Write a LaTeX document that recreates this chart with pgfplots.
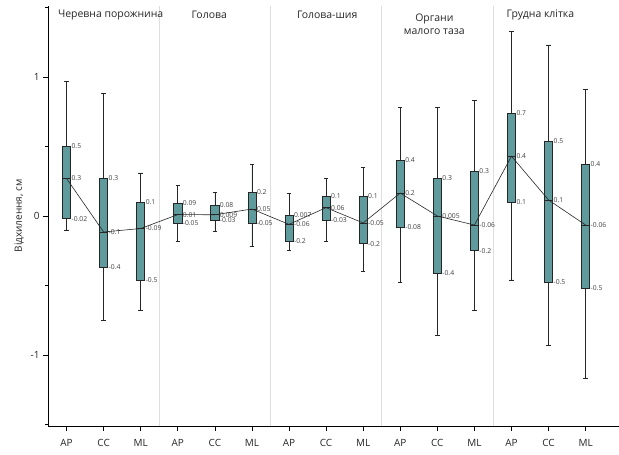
\documentclass[border=0pt]{standalone}
\usepackage{fontspec}
\setmainfont{Open Sans}
\usepackage{pgfplots}
\usepackage{pgfplotstable}
\pgfplotsset{compat=1.18}
\usepgfplotslibrary{statistics}
\usetikzlibrary{calc}
\definecolor{boxc}{HTML}{5F9B9D}

\pgfplotstableread{
x y t
0.11 0.50 0.5
0.11 0.27 0.3
0.11 -0.02 -0.02
1.11 0.27 0.3
1.11 -0.115 -0.1
1.11 -0.37 -0.4
2.11 0.10 0.1
2.11 -0.09 -0.09
2.11 -0.46 -0.5
3.11 0.09 0.09
3.11 0.01 0.01
3.11 -0.05 -0.05
4.11 0.08 0.08
4.11 0.009 0.009
4.11 -0.03 -0.03
5.11 0.17 0.2
5.11 0.05 0.05
5.11 -0.05 -0.05
6.11 0.007 0.007
6.11 -0.06 -0.06
6.11 -0.18 -0.2
7.11 0.14 0.1
7.11 0.06 0.06
7.11 -0.03 -0.03
8.11 0.14 0.1
8.11 -0.05 -0.05
8.11 -0.20 -0.2
9.11 0.40 0.4
9.11 0.165 0.2
9.11 -0.08 -0.08
10.11 0.27 0.3
10.11 0.0 0.005
10.11 -0.41 -0.4
11.11 0.32 0.3
11.11 -0.065 -0.06
11.11 -0.25 -0.2
12.11 0.74 0.7
12.11 0.43 0.4
12.11 0.10 0.1
13.11 0.54 0.5
13.11 0.115 0.1
13.11 -0.475 -0.5
14.11 0.37 0.4
14.11 -0.065 -0.06
14.11 -0.52 -0.5
}\labeltab

\begin{document}
\begin{tikzpicture}
\begin{axis}[
  scale only axis, width=571bp, height=420bp,
  xmin=-0.5, xmax=14.9, ymin=-1.51, ymax=1.51,
  axis x line=bottom, axis y line=left,
  axis line style={-, line width=0.8pt, black},
  xtick={0,...,14},
  xticklabels={AP,CC,ML,AP,CC,ML,AP,CC,ML,AP,CC,ML,AP,CC,ML},
  ytick={-1,0,1},
  minor ytick={-1.5,-0.5,0.5,1.5},
  tick align=outside, major tick length=5bp, minor tick length=3bp,
  tick style={black, line width=0.6pt},
  ticklabel style={font=\fontsize{10}{11}\selectfont, text=black!85},
  xticklabel style={yshift=-5bp},
  /pgf/number format/assume math mode=true,
  ylabel={Відхилення, см},
  ylabel style={font=\fontsize{10}{11}\selectfont, text=black!85},
  extra x ticks={2.5,5.5,8.5,11.5},
  extra x tick labels={},
  extra x tick style={grid=major, major grid style={black!13, line width=0.7pt}, major tick length=0pt},
  clip=false,
  boxplot/draw direction=y,
  boxplot/box extend=0.22,
  boxplot/whisker extend=0.12,
  boxp/.style={draw=black!85, fill=boxc, line width=0.7pt, solid},
]
\addplot[boxp, boxplot prepared={draw position=0, lower whisker=-0.10, lower quartile=-0.02, median=0.27, upper quartile=0.50, upper whisker=0.97}] coordinates {};
\addplot[boxp, boxplot prepared={draw position=1, lower whisker=-0.75, lower quartile=-0.37, median=-0.115, upper quartile=0.27, upper whisker=0.88}] coordinates {};
\addplot[boxp, boxplot prepared={draw position=2, lower whisker=-0.68, lower quartile=-0.46, median=-0.09, upper quartile=0.10, upper whisker=0.31}] coordinates {};
\addplot[boxp, boxplot prepared={draw position=3, lower whisker=-0.18, lower quartile=-0.05, median=0.01, upper quartile=0.09, upper whisker=0.22}] coordinates {};
\addplot[boxp, boxplot prepared={draw position=4, lower whisker=-0.11, lower quartile=-0.03, median=0.009, upper quartile=0.08, upper whisker=0.17}] coordinates {};
\addplot[boxp, boxplot prepared={draw position=5, lower whisker=-0.22, lower quartile=-0.05, median=0.05, upper quartile=0.17, upper whisker=0.37}] coordinates {};
\addplot[boxp, boxplot prepared={draw position=6, lower whisker=-0.25, lower quartile=-0.18, median=-0.06, upper quartile=0.007, upper whisker=0.16}] coordinates {};
\addplot[boxp, boxplot prepared={draw position=7, lower whisker=-0.18, lower quartile=-0.03, median=0.06, upper quartile=0.14, upper whisker=0.27}] coordinates {};
\addplot[boxp, boxplot prepared={draw position=8, lower whisker=-0.40, lower quartile=-0.20, median=-0.05, upper quartile=0.14, upper whisker=0.35}] coordinates {};
\addplot[boxp, boxplot prepared={draw position=9, lower whisker=-0.48, lower quartile=-0.08, median=0.165, upper quartile=0.40, upper whisker=0.78}] coordinates {};
\addplot[boxp, boxplot prepared={draw position=10, lower whisker=-0.86, lower quartile=-0.41, median=0.0, upper quartile=0.27, upper whisker=0.78}] coordinates {};
\addplot[boxp, boxplot prepared={draw position=11, lower whisker=-0.68, lower quartile=-0.25, median=-0.065, upper quartile=0.32, upper whisker=0.83}] coordinates {};
\addplot[boxp, boxplot prepared={draw position=12, lower whisker=-0.46, lower quartile=0.10, median=0.43, upper quartile=0.74, upper whisker=1.33}] coordinates {};
\addplot[boxp, boxplot prepared={draw position=13, lower whisker=-0.93, lower quartile=-0.475, median=0.115, upper quartile=0.54, upper whisker=1.23}] coordinates {};
\addplot[boxp, boxplot prepared={draw position=14, lower whisker=-1.17, lower quartile=-0.52, median=-0.065, upper quartile=0.37, upper whisker=0.91}] coordinates {};

\addplot[black!85, line width=0.6pt, mark=none] coordinates {
(0,0.27)(1,-0.115)(2,-0.09)(3,0.01)(4,0.009)(5,0.05)(6,-0.06)(7,0.06)(8,-0.05)(9,0.165)(10,0.0)(11,-0.065)(12,0.43)(13,0.115)(14,-0.065)};

\addplot[only marks, mark=*, mark size=0pt, mark options={draw=none, fill=none},
  point meta=explicit symbolic, nodes near coords,
  nodes near coords style={anchor=west, inner sep=0.8pt, font=\fontsize{6.8}{7.5}\selectfont, text=black!75}]
  table[x=x, y=y, meta=t] {\labeltab};

\node[font=\fontsize{10.5}{13}\selectfont, text=black!85] at (axis cs:1.19,1.446) {Черевна порожнина};
\node[font=\fontsize{10.5}{13}\selectfont, text=black!85] at (axis cs:3.85,1.446) {Голова};
\node[font=\fontsize{10.5}{13}\selectfont, text=black!85] at (axis cs:7.03,1.446) {Голова-шия};
\node[font=\fontsize{10.5}{13}\selectfont, text=black!85, align=center] at (axis cs:9.92,1.38) {Органи\\малого таза};
\node[font=\fontsize{10.5}{13}\selectfont, text=black!85] at (axis cs:12.78,1.446) {Грудна клітка};
\end{axis}
\pgfresetboundingbox
\path ($(current axis.south west)+(-48bp,-29bp)$) rectangle ($(current axis.north east)+(0bp,6bp)$);
\end{tikzpicture}
\end{document}
